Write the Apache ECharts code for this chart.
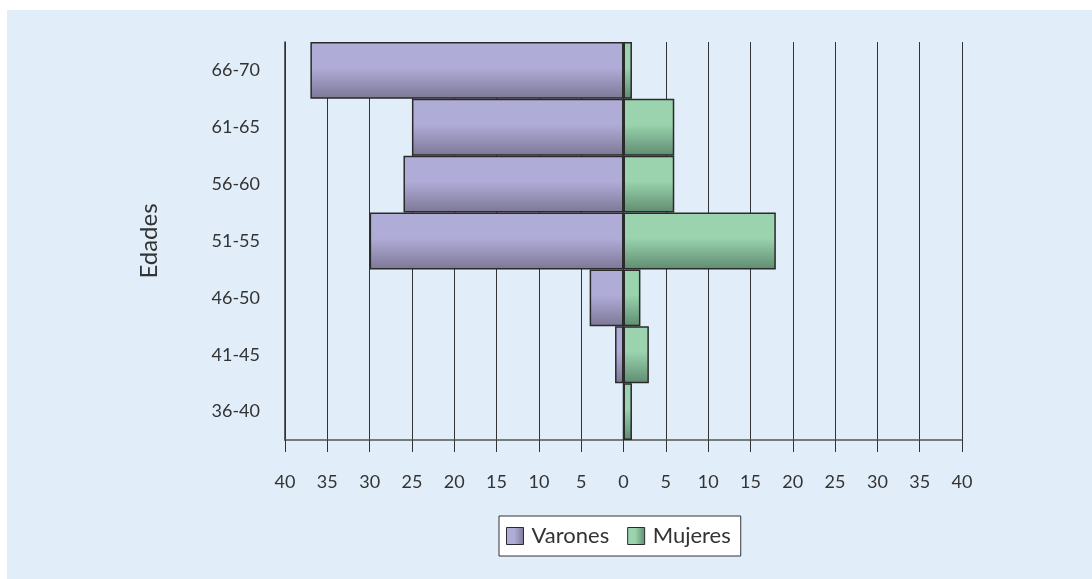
<!DOCTYPE html>
<html>
<head>
<meta charset="utf-8">
<script src="https://cdn.jsdelivr.net/npm/echarts@6/dist/echarts.min.js"></script>
<style>
    html, body { margin: 0; padding: 0; background: #ffffff; overflow: hidden; }
    #chart { position: absolute; left: 7px; top: 10px; width: 1085px; height: 569px; background: #e1eef9; }
</style>
</head>
<body>
<div id="chart"></div>
<script>
// grupos de edad, de abajo hacia arriba
var edades = ['36-40', '41-45', '46-50', '51-55', '56-60', '61-65', '66-70'];
var varones = [0, 1, 4, 30, 26, 25, 37];
var mujeres = [1, 3, 2, 18, 6, 6, 1];
var ejeMin = -40, ejeMax = 40, ejePaso = 5;

var myChart = echarts.init(document.getElementById('chart'));

function degradado(claro, oscuro, horizontal) {
    return new echarts.graphic.LinearGradient(0, 0, horizontal ? 1 : 0, horizontal ? 0 : 1, [
        { offset: 0, color: claro },
        { offset: 0.45, color: claro },
        { offset: 1, color: oscuro }
    ]);
}

var option = {
    animation: false,
    textStyle: { fontFamily: 'Lato', color: '#333' },
    grid: { left: 278, top: 32, width: 677, height: 398 },
    legend: {
        data: [
            { name: 'Varones', itemStyle: { color: degradado('#b0acd8', '#7d7896', true), borderColor: '#2a2a2a', borderWidth: 1 } },
            { name: 'Mujeres', itemStyle: { color: degradado('#9ad3ad', '#5f8c71', true), borderColor: '#2a2a2a', borderWidth: 1 } }
        ],
        icon: 'rect',
        left: 492, top: 506,
        backgroundColor: '#ffffff',
        borderColor: '#333', borderWidth: 1,
        padding: [9, 10, 9, 7],
        itemWidth: 17, itemHeight: 17, itemGap: 18,
        textStyle: { fontSize: 22, color: '#333', fontFamily: 'Lato', padding: [0, 0, 0, 3] }
    },
    xAxis: {
        type: 'value',
        min: ejeMin, max: ejeMax, interval: ejePaso,
        axisLine: { show: true, lineStyle: { color: '#555', width: 1.5 } },
        axisTick: { show: true, length: 12, lineStyle: { color: '#333' } },
        axisLabel: {
            margin: 33, fontSize: 18, color: '#333',
            formatter: function (v) { return Math.abs(v); }
        },
        splitLine: { show: true, lineStyle: { color: '#333', width: 1 } }
    },
    yAxis: {
        type: 'category',
        data: edades,
        name: 'Edades',
        nameLocation: 'middle',
        nameGap: 124,
        nameTextStyle: { fontSize: 24, color: '#333' },
        axisLine: { show: true, onZero: false, lineStyle: { color: '#333', width: 1.5 } },
        axisTick: { show: false },
        axisLabel: { margin: 25, fontSize: 18, color: '#333' }
    },
    series: [{
        name: 'Varones',
        type: 'bar',
        stack: 'total',
        barCategoryGap: 0,
        data: varones.map(function (v) { return -v; }),
        itemStyle: {
            color: degradado('#b0acd8', '#7d7896'),
            borderColor: '#2a2a2a', borderWidth: 1.5
        }
    }, {
        name: 'Mujeres',
        type: 'bar',
        stack: 'total',
        barCategoryGap: 0,
        data: mujeres,
        itemStyle: {
            color: degradado('#9ad3ad', '#5f8c71'),
            borderColor: '#2a2a2a', borderWidth: 1.5
        }
    }]
};
myChart.setOption(option);
</script>
</body>
</html>
